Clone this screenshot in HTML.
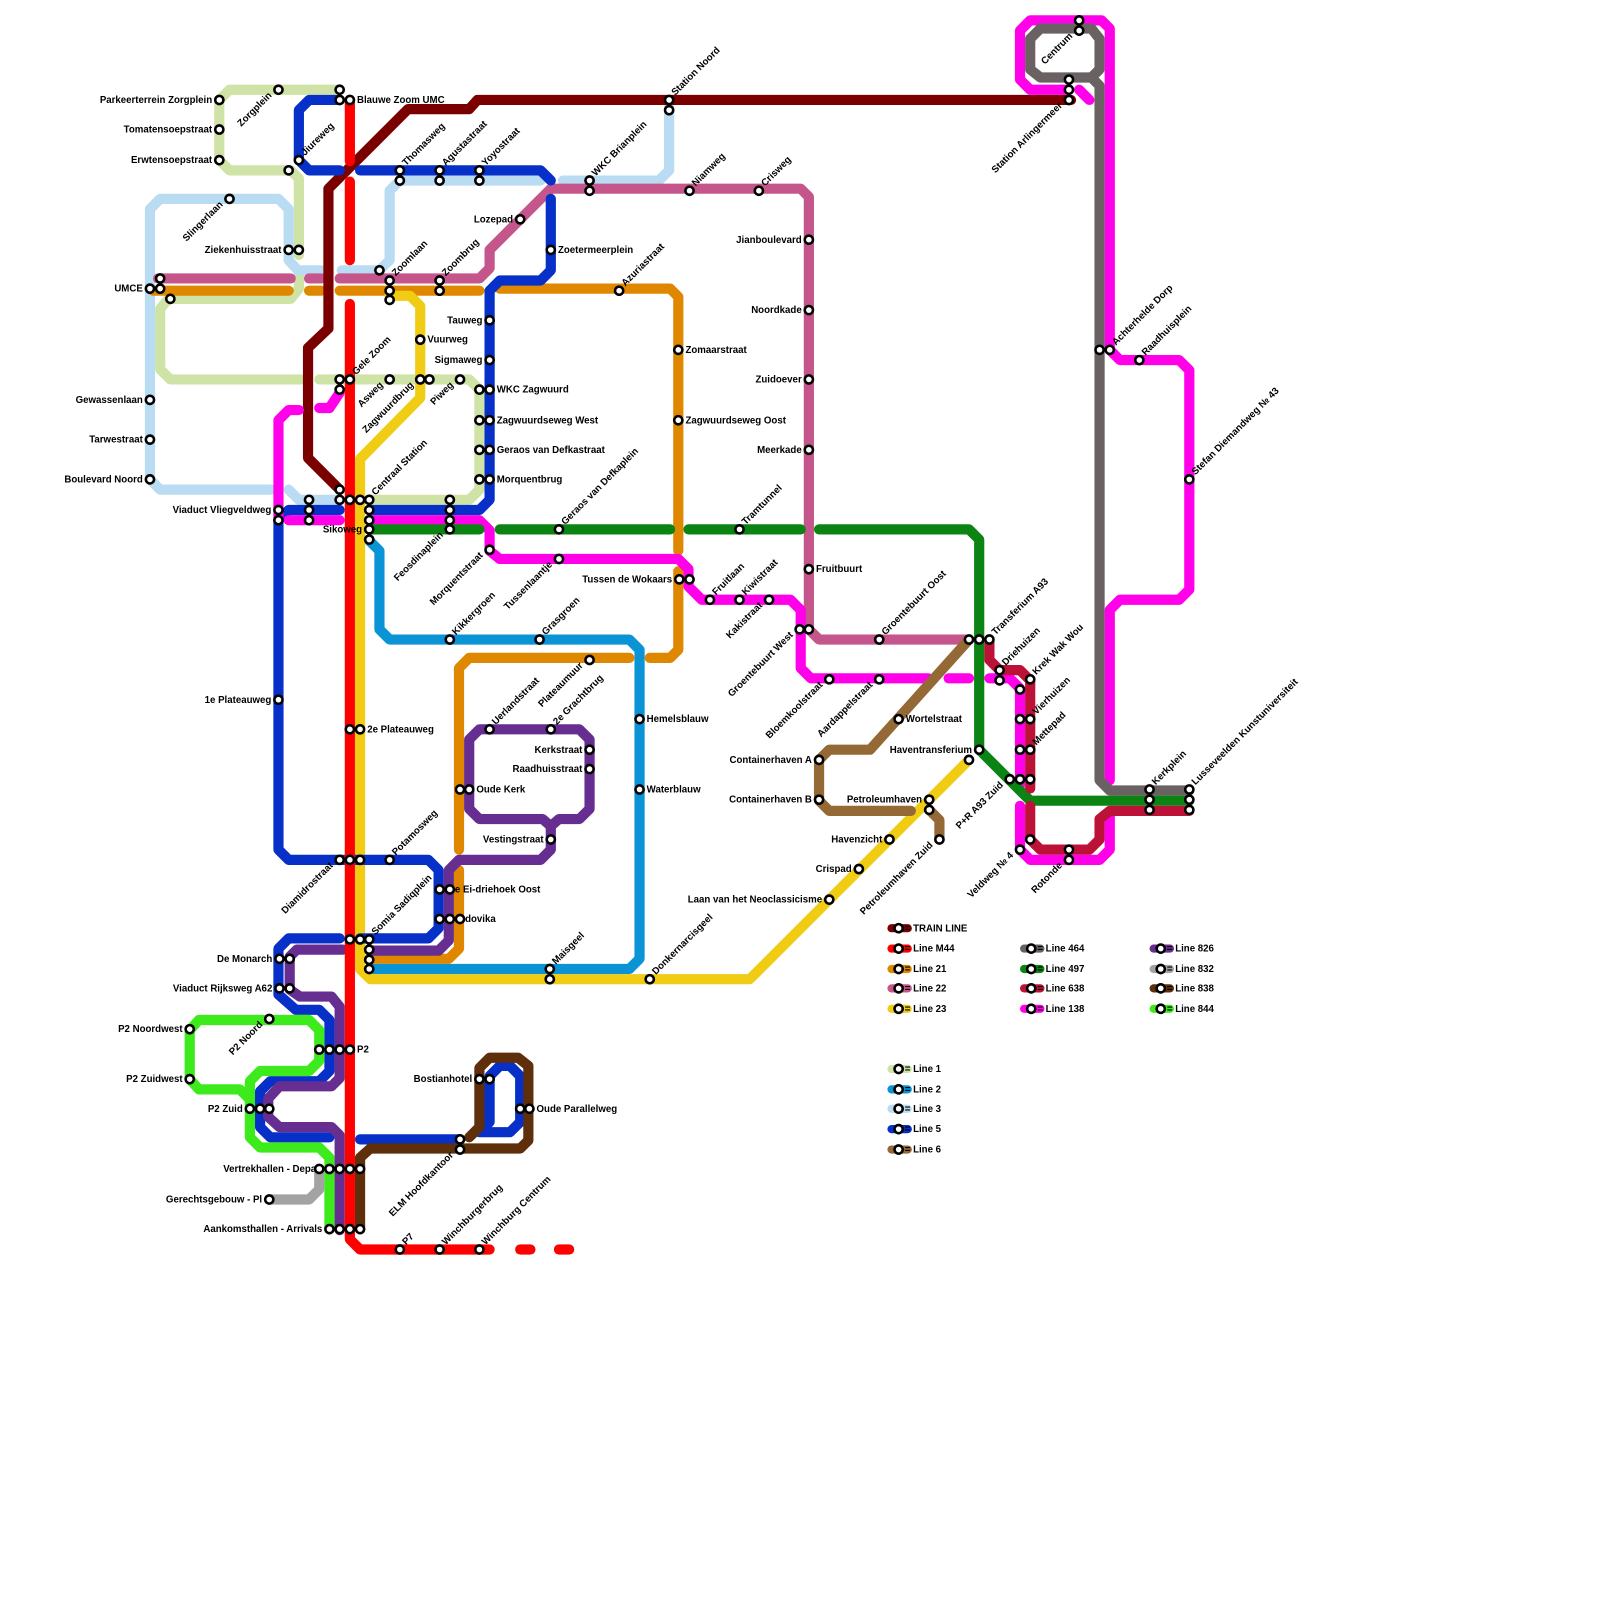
<!DOCTYPE html>
<html><head><meta charset="utf-8"><style>
body{margin:0;background:#fff}
svg{display:block}
.l{fill:none;stroke-width:10;stroke-linecap:round;stroke-linejoin:round}
.s{fill:#fff;stroke:#000;stroke-width:2.5}
text{font-family:"Liberation Sans",sans-serif;font-size:9.5px;font-weight:bold;fill:#000}
.e{text-anchor:end}
</style></head><body>
<svg width="1600" height="1600" viewBox="0 0 1600 1600" xmlns="http://www.w3.org/2000/svg">
<g transform="scale(1.02)">
<!-- Line 1 light green -->
<g class="l" stroke="#cfe3a6">
<polyline points="333,88 225,88 215,98 215,157 225,167 285,167 293,175 293,250"/>
<polyline points="293,268 293,283 285,293 165,293 157,303 157,362 167,372 295,372"/>
<polyline points="313,372 460,372 470,382 470,480 460,490 362,490"/>
</g>
<!-- Line 3 light blue -->
<g class="l" stroke="#badcf3">
<polyline points="656,98 656,167 646,177 552,177"/>
<polyline points="530,177 392,177 382,187 382,255 372,265 335,265"/>
<polyline points="315,265 292,265 283,255 283,205 273,195 157,195 147,205 147,470 157,480 266,480"/>
<polyline points="283,480 293,490 333,490"/>
</g>
<!-- Line 22 -->
<g class="l" stroke="#c5568b">
<polyline points="155,273 285,273"/><polyline points="303,273 315,273"/>
<polyline points="333,273 470,273 480,263 480,245 540,185 785,185 793,193 793,617 803,627 950,627"/>
</g>
<!-- Line 21 orange -->
<g class="l" stroke="#e08700">
<polyline points="150,285 283,285"/><polyline points="303,285 315,285"/>
<polyline points="333,285 470,285"/>
<polyline points="490,283 657,283 665,291 665,540"/>
<polyline points="665,560 665,637 657,645 637,645"/>
<polyline points="617,645 460,645 450,655 450,833"/>
<polyline points="450,853 450,930 440,940 362,940"/>
</g>
<!-- Line 2 -->
<polyline class="l" stroke="#0a94d6" points="362,530 372,540 372,617 382,627 617,627 627,637 627,940 617,950 362,950"/>
<!-- Line 23 yellow -->
<polyline class="l" stroke="#f0cc14" points="382,290 402,290 412,300 412,390 353,450 353,950 363,960 735,960 950,745"/>
<!-- Train -->
<polyline class="l" stroke="#7a0000" points="1050,98 468,98 460,107 400,107 322,185 322,322 302,341 302,449 331,478"/>
<!-- Line 5 blue -->
<g class="l" stroke="#0630c8">
<polyline points="333,98 303,98 293,108 293,157 303,167 333,167"/>
<polyline points="353,167 530,167 540,177"/>
<polyline points="540,195 540,265 530,275 490,275 480,285 480,490 470,500 362,500"/>
<polyline points="333,500 283,500 273,510 273,833 283,843 420,843 430,853 430,910 420,920 353,920"/>
<polyline points="333,920 283,920 273,930 273,975 290,990 313,990 323,1000 323,1050 313,1060 265,1060 255,1070 255,1105 265,1115 323,1115"/>
<polyline points="353,1117 450,1117"/>
<polyline points="470,1110 480,1100 480,1055 490,1045 500,1045 510,1055 510,1100 500,1110 470,1110"/>
</g>
<!-- Line 138 magenta -->
<g class="l" stroke="#ff00e8">
<polyline points="1058,20 1010,20 1000,30 1000,78 1010,88 1048,88"/>
<polyline points="1058,88 1068,98"/>
<polyline points="1058,20 1080,20 1088,28 1088,343 1098,353 1156,353 1166,363 1166,578 1156,588 1098,588 1088,598 1088,765"/>
<polyline points="1088,800 1088,833 1078,843 1010,843 1000,833 1000,790"/>
<polyline points="333,385 323,400 313,400"/>
<polyline points="293,402 283,402 273,412 273,510"/>
<polyline points="283,510 333,510"/>
<polyline points="362,510 470,510 480,520 480,540 490,548 665,548 675,558 675,575 688,588 775,588 785,598 785,655 795,665 910,665"/>
<polyline points="930,665 950,665"/>
<polyline points="970,665 990,665 1000,675 1000,770"/>
</g>
<!-- Line 464 grey -->
<g class="l" stroke="#6a6262">
<polyline points="1058,28 1020,28 1010,38 1010,68 1020,76 1070,76 1078,68 1078,38 1070,28 1058,28"/>
<polyline points="1070,76 1078,84 1078,765 1088,775 1166,775"/>
</g>
<!-- Line 497 green -->
<g class="l" stroke="#0b8413">
<polyline points="362,519 470,519"/><polyline points="490,519 657,519"/>
<polyline points="675,519 785,519"/>
<polyline points="803,519 950,519 960,529 960,735 1010,785 1166,785"/>
</g>
<!-- Line 638 -->
<g class="l" stroke="#bd1238">
<polyline points="970,627 970,647 980,657 1000,657 1010,667 1010,773"/>
<polyline points="1010,790 1010,823 1020,833 1068,833 1078,823 1078,803 1088,795 1166,795"/>
</g>
<!-- Line 6 brown -->
<polyline class="l" stroke="#956936" points="950,627 853,735 813,735 803,745 803,785 813,795 893,795"/>
<polyline class="l" stroke="#956936" points="911,794 921,804 921,823"/>
<!-- Line 826 purple -->
<g class="l" stroke="#662e91">
<polyline points="336,931 291,931 284,938 284,970 294,977 325,977 333,987 333,1057 325,1065 274,1065 263,1077 263,1095 274,1105 325,1105 333,1113 333,1206"/>
<polyline points="362,932 430,932 440,922 440,853 450,843 530,843 540,833 540,812"/>
<polyline points="470,715 568,715 578,725 578,793 568,803 548,803 540,810 532,803 470,803 460,793 460,725 470,715"/>
</g>
<!-- Line 844 green -->
<g class="l" stroke="#3deb1c">
<polyline points="186,1058 186,1010 195,1000 303,1000 313,1010 313,1040 303,1050 255,1050 245,1060 245,1115 255,1125 313,1125 323,1135 323,1205"/>
<polyline points="186,1058 195,1068 235,1068 245,1078"/>
</g>
<!-- Line 832 -->
<polyline class="l" stroke="#a3a3a3" points="264,1176 303,1176 313,1166 313,1146"/>
<!-- Line 838 -->
<g class="l" stroke="#5e2f0a">
<polyline points="353,1205 353,1135 363,1126 510,1126 518,1118 518,1045 508,1037 480,1037 470,1047 470,1105 460,1115"/>
</g>
<!-- Red M44 -->
<g class="l" stroke="#ff0000">
<polyline points="343,98 343,158"/><polyline points="343,178 343,255"/>
<polyline points="343,298 343,1215 353,1225 480,1225"/>
<polyline points="510,1225 520,1225"/><polyline points="548,1225 558,1225"/>
</g>

<!-- stations -->
<g class="s">
<circle cx="215" cy="98" r="4"/><circle cx="215" cy="127" r="4"/><circle cx="215" cy="157" r="4"/>
<circle cx="273" cy="88" r="4"/><circle cx="333" cy="88" r="4"/><circle cx="333" cy="98" r="4"/><circle cx="343" cy="98" r="4"/>
<circle cx="293" cy="157" r="4"/><circle cx="283" cy="167" r="4"/><circle cx="225" cy="195" r="4"/>
<circle cx="283" cy="245" r="4"/><circle cx="293" cy="245" r="4"/>
<circle cx="147" cy="283" r="4"/><circle cx="157" cy="273" r="4"/><circle cx="157" cy="283" r="4"/><circle cx="167" cy="293" r="4"/>
<circle cx="147" cy="392" r="4"/><circle cx="147" cy="431" r="4"/><circle cx="147" cy="470" r="4"/>
<circle cx="372" cy="265" r="4"/><circle cx="382" cy="275" r="4"/><circle cx="382" cy="285" r="4"/><circle cx="382" cy="294" r="4"/>
<circle cx="431" cy="275" r="4"/><circle cx="431" cy="285" r="4"/>
<circle cx="510" cy="215" r="4"/><circle cx="540" cy="245" r="4"/>
<circle cx="392" cy="167" r="4"/><circle cx="392" cy="177" r="4"/><circle cx="431" cy="167" r="4"/><circle cx="431" cy="177" r="4"/><circle cx="470" cy="167" r="4"/><circle cx="470" cy="177" r="4"/>
<circle cx="578" cy="177" r="4"/><circle cx="578" cy="187" r="4"/><circle cx="656" cy="98" r="4"/><circle cx="656" cy="108" r="4"/>
<circle cx="676" cy="187" r="4"/><circle cx="744" cy="187" r="4"/><circle cx="607" cy="285" r="4"/>
<circle cx="793" cy="235" r="4"/><circle cx="793" cy="304" r="4"/><circle cx="793" cy="372" r="4"/><circle cx="793" cy="441" r="4"/><circle cx="793" cy="558" r="4"/>
<circle cx="665" cy="343" r="4"/><circle cx="665" cy="412" r="4"/>
<circle cx="480" cy="314" r="4"/><circle cx="480" cy="353" r="4"/>
<circle cx="470" cy="382" r="4"/><circle cx="480" cy="382" r="4"/><circle cx="470" cy="412" r="4"/><circle cx="480" cy="412" r="4"/>
<circle cx="470" cy="441" r="4"/><circle cx="480" cy="441" r="4"/><circle cx="470" cy="470" r="4"/><circle cx="480" cy="470" r="4"/>
<circle cx="412" cy="333" r="4"/><circle cx="412" cy="372" r="4"/><circle cx="421" cy="372" r="4"/><circle cx="382" cy="372" r="4"/><circle cx="451" cy="372" r="4"/>
<circle cx="333" cy="372" r="4"/><circle cx="333" cy="382" r="4"/><circle cx="343" cy="372" r="4"/>
<circle cx="333" cy="480" r="4"/><circle cx="333" cy="490" r="4"/><circle cx="343" cy="490" r="4"/><circle cx="353" cy="490" r="4"/>
<circle cx="362" cy="490" r="4"/><circle cx="362" cy="500" r="4"/><circle cx="362" cy="510" r="4"/><circle cx="362" cy="519" r="4"/><circle cx="362" cy="529" r="4"/>
<circle cx="303" cy="490" r="4"/><circle cx="303" cy="500" r="4"/><circle cx="303" cy="510" r="4"/><circle cx="273" cy="500" r="4"/><circle cx="273" cy="510" r="4"/>
<circle cx="441" cy="490" r="4"/><circle cx="441" cy="500" r="4"/><circle cx="441" cy="510" r="4"/><circle cx="441" cy="519" r="4"/>
<circle cx="548" cy="519" r="4"/><circle cx="725" cy="519" r="4"/><circle cx="480" cy="539" r="4"/><circle cx="548" cy="548" r="4"/>
<circle cx="666" cy="568" r="4"/><circle cx="676" cy="568" r="4"/><circle cx="696" cy="588" r="4"/><circle cx="725" cy="588" r="4"/><circle cx="754" cy="588" r="4"/>
<circle cx="784" cy="617" r="4"/><circle cx="793" cy="617" r="4"/><circle cx="862" cy="627" r="4"/>
<circle cx="950" cy="627" r="4"/><circle cx="960" cy="627" r="4"/><circle cx="970" cy="627" r="4"/>
<circle cx="441" cy="627" r="4"/><circle cx="529" cy="627" r="4"/><circle cx="578" cy="647" r="4"/>
<circle cx="813" cy="666" r="4"/><circle cx="862" cy="666" r="4"/>
<circle cx="980" cy="657" r="4"/><circle cx="980" cy="667" r="4"/><circle cx="1000" cy="676" r="4"/><circle cx="1010" cy="666" r="4"/>
<circle cx="1000" cy="705" r="4"/><circle cx="1010" cy="705" r="4"/><circle cx="1000" cy="735" r="4"/><circle cx="1010" cy="735" r="4"/>
<circle cx="990" cy="764" r="4"/><circle cx="1000" cy="764" r="4"/><circle cx="1010" cy="764" r="4"/>
<circle cx="960" cy="735" r="4"/><circle cx="950" cy="745" r="4"/><circle cx="881" cy="705" r="4"/>
<circle cx="803" cy="745" r="4"/><circle cx="803" cy="784" r="4"/><circle cx="911" cy="784" r="4"/><circle cx="911" cy="794" r="4"/>
<circle cx="921" cy="823" r="4"/><circle cx="872" cy="823" r="4"/><circle cx="842" cy="852" r="4"/><circle cx="813" cy="882" r="4"/><circle cx="637" cy="960" r="4"/>
<circle cx="1010" cy="823" r="4"/><circle cx="1000" cy="833" r="4"/><circle cx="1048" cy="833" r="4"/><circle cx="1048" cy="843" r="4"/>
<circle cx="1127" cy="774" r="4"/><circle cx="1127" cy="784" r="4"/><circle cx="1127" cy="794" r="4"/>
<circle cx="1166" cy="774" r="4"/><circle cx="1166" cy="784" r="4"/><circle cx="1166" cy="794" r="4"/>
<circle cx="1078" cy="343" r="4"/><circle cx="1088" cy="343" r="4"/><circle cx="1117" cy="353" r="4"/><circle cx="1166" cy="470" r="4"/>
<circle cx="1058" cy="20" r="4"/><circle cx="1058" cy="30" r="4"/><circle cx="1048" cy="78" r="4"/><circle cx="1048" cy="88" r="4"/><circle cx="1048" cy="98" r="4"/>
<circle cx="273" cy="686" r="4"/><circle cx="343" cy="715" r="4"/><circle cx="353" cy="715" r="4"/>
<circle cx="480" cy="715" r="4"/><circle cx="540" cy="715" r="4"/><circle cx="578" cy="735" r="4"/><circle cx="578" cy="754" r="4"/>
<circle cx="451" cy="774" r="4"/><circle cx="460" cy="774" r="4"/><circle cx="540" cy="823" r="4"/>
<circle cx="627" cy="705" r="4"/><circle cx="627" cy="774" r="4"/>
<circle cx="333" cy="843" r="4"/><circle cx="343" cy="843" r="4"/><circle cx="353" cy="843" r="4"/><circle cx="382" cy="843" r="4"/>
<circle cx="431" cy="872" r="4"/><circle cx="441" cy="872" r="4"/><circle cx="431" cy="901" r="4"/><circle cx="441" cy="901" r="4"/><circle cx="451" cy="901" r="4"/>
<circle cx="343" cy="921" r="4"/><circle cx="353" cy="921" r="4"/><circle cx="362" cy="921" r="4"/><circle cx="362" cy="931" r="4"/><circle cx="362" cy="941" r="4"/><circle cx="362" cy="950" r="4"/>
<circle cx="539" cy="950" r="4"/><circle cx="539" cy="960" r="4"/>
<circle cx="274" cy="940" r="4"/><circle cx="284" cy="940" r="4"/><circle cx="274" cy="969" r="4"/><circle cx="284" cy="969" r="4"/>
<circle cx="186" cy="1009" r="4"/><circle cx="186" cy="1058" r="4"/><circle cx="264" cy="999" r="4"/>
<circle cx="313" cy="1029" r="4"/><circle cx="323" cy="1029" r="4"/><circle cx="333" cy="1029" r="4"/><circle cx="343" cy="1029" r="4"/>
<circle cx="245" cy="1087" r="4"/><circle cx="255" cy="1087" r="4"/><circle cx="264" cy="1087" r="4"/>
<circle cx="470" cy="1058" r="4"/><circle cx="480" cy="1058" r="4"/><circle cx="510" cy="1087" r="4"/><circle cx="519" cy="1087" r="4"/>
<circle cx="451" cy="1117" r="4"/><circle cx="451" cy="1127" r="4"/>
<circle cx="313" cy="1146" r="4"/><circle cx="323" cy="1146" r="4"/><circle cx="333" cy="1146" r="4"/><circle cx="343" cy="1146" r="4"/><circle cx="353" cy="1146" r="4"/>
<circle cx="264" cy="1176" r="4"/>
<circle cx="323" cy="1205" r="4"/><circle cx="333" cy="1205" r="4"/><circle cx="343" cy="1205" r="4"/><circle cx="353" cy="1205" r="4"/>
<circle cx="392" cy="1225" r="4"/><circle cx="431" cy="1225" r="4"/><circle cx="470" cy="1225" r="4"/>
</g>

<!-- horizontal labels -->
<g>
<text class="e" x="208" y="101">Parkeerterrein Zorgplein</text>
<text class="e" x="208" y="130">Tomatensoepstraat</text>
<text class="e" x="208" y="160">Erwtensoepstraat</text>
<text x="350" y="101">Blauwe Zoom UMC</text>
<text class="e" x="276" y="248">Ziekenhuisstraat</text>
<text class="e" x="140" y="286">UMCE</text>
<text class="e" x="140" y="395">Gewassenlaan</text>
<text class="e" x="140" y="434">Tarwestraat</text>
<text class="e" x="140" y="473">Boulevard Noord</text>
<text class="e" x="503" y="218">Lozepad</text>
<text x="547" y="248">Zoetermeerplein</text>
<text class="e" x="786" y="238">Jianboulevard</text>
<text class="e" x="786" y="307">Noordkade</text>
<text class="e" x="786" y="375">Zuidoever</text>
<text class="e" x="786" y="444">Meerkade</text>
<text x="800" y="561">Fruitbuurt</text>
<text x="672" y="346">Zomaarstraat</text>
<text x="672" y="415">Zagwuurdseweg Oost</text>
<text class="e" x="473" y="317">Tauweg</text>
<text class="e" x="473" y="356">Sigmaweg</text>
<text x="487" y="385">WKC Zagwuurd</text>
<text x="487" y="415">Zagwuurdseweg West</text>
<text x="487" y="444">Geraos van Defkastraat</text>
<text x="487" y="473">Morquentbrug</text>
<text x="419" y="336">Vuurweg</text>
<text class="e" x="355" y="522">Sikoweg</text>
<text class="e" x="266" y="503">Viaduct Vliegveldweg</text>
<text class="e" x="659" y="571">Tussen de Wokaars</text>
<text x="888" y="708">Wortelstraat</text>
<text class="e" x="796" y="748">Containerhaven A</text>
<text class="e" x="796" y="787">Containerhaven B</text>
<text class="e" x="953" y="738">Haventransferium</text>
<text class="e" x="904" y="787">Petroleumhaven</text>
<text class="e" x="865" y="826">Havenzicht</text>
<text class="e" x="835" y="855">Crispad</text>
<text class="e" x="806" y="885">Laan van het Neoclassicisme</text>
<text class="e" x="266" y="689">1e Plateauweg</text>
<text x="360" y="718">2e Plateauweg</text>
<text class="e" x="571" y="738">Kerkstraat</text>
<text class="e" x="571" y="757">Raadhuisstraat</text>
<text x="467" y="777">Oude Kerk</text>
<text class="e" x="533" y="826">Vestingstraat</text>
<text x="634" y="708">Hemelsblauw</text>
<text x="634" y="777">Waterblauw</text>
<text x="446" y="875">e Ei-driehoek Oost</text>
<text x="456" y="904">dovika</text>
<text class="e" x="267" y="943">De Monarch</text>
<text class="e" x="267" y="972">Viaduct Rijksweg A62</text>
<text class="e" x="179" y="1012">P2 Noordwest</text>
<text class="e" x="179" y="1061">P2 Zuidwest</text>
<text x="350" y="1032">P2</text>
<text class="e" x="238" y="1090">P2 Zuid</text>
<text class="e" x="463" y="1061">Bostianhotel</text>
<text x="526" y="1090">Oude Parallelweg</text>
<text class="e" x="310" y="1149">Vertrekhallen - Depa</text>
<text class="e" x="257" y="1179">Gerechtsgebouw - Pl</text>
<text class="e" x="316" y="1208">Aankomsthallen - Arrivals</text>
</g>
<!-- rotated labels (start) -->
<g>
<text x="299" y="153" transform="rotate(-45 299 153)">Jiureweg</text>
<text x="398" y="163" transform="rotate(-45 398 163)">Thomasweg</text>
<text x="437" y="163" transform="rotate(-45 437 163)">Agustastraat</text>
<text x="476" y="163" transform="rotate(-45 476 163)">Yoyostraat</text>
<text x="584" y="173" transform="rotate(-45 584 173)">WKC Brianplein</text>
<text x="662" y="94" transform="rotate(-45 662 94)">Station Noord</text>
<text x="682" y="183" transform="rotate(-45 682 183)">Niamweg</text>
<text x="750" y="183" transform="rotate(-45 750 183)">Crisweg</text>
<text x="613" y="281" transform="rotate(-45 613 281)">Azuriastraat</text>
<text x="388" y="271" transform="rotate(-45 388 271)">Zoomlaan</text>
<text x="437" y="271" transform="rotate(-45 437 271)">Zoombrug</text>
<text x="349" y="368" transform="rotate(-45 349 368)">Gele Zoom</text>
<text x="368" y="486" transform="rotate(-45 368 486)">Centraal Station</text>
<text x="554" y="515" transform="rotate(-45 554 515)">Geraos van Defkaplein</text>
<text x="731" y="515" transform="rotate(-45 731 515)">Tramtunnel</text>
<text x="702" y="584" transform="rotate(-45 702 584)">Fruitlaan</text>
<text x="731" y="584" transform="rotate(-45 731 584)">Kiwistraat</text>
<text x="868" y="623" transform="rotate(-45 868 623)">Groentebuurt Oost</text>
<text x="976" y="623" transform="rotate(-45 976 623)">Transferium A93</text>
<text x="447" y="623" transform="rotate(-45 447 623)">Kikkergroen</text>
<text x="535" y="623" transform="rotate(-45 535 623)">Grasgroen</text>
<text x="986" y="653" transform="rotate(-45 986 653)">Driehuizen</text>
<text x="1016" y="662" transform="rotate(-45 1016 662)">Krek Wak Wou</text>
<text x="1016" y="701" transform="rotate(-45 1016 701)">Vierhuizen</text>
<text x="1016" y="731" transform="rotate(-45 1016 731)">Mettepad</text>
<text x="643" y="956" transform="rotate(-45 643 956)">Donkernarcisgeel</text>
<text x="1133" y="770" transform="rotate(-45 1133 770)">Kerkplein</text>
<text x="1172" y="770" transform="rotate(-45 1172 770)">Lusseveelden Kunstuniversiteit</text>
<text x="1094" y="339" transform="rotate(-45 1094 339)">Achterhelde Dorp</text>
<text x="1123" y="349" transform="rotate(-45 1123 349)">Raadhuisplein</text>
<text x="1172" y="466" transform="rotate(-45 1172 466)">Stefan Diemandweg № 43</text>
<text x="486" y="711" transform="rotate(-45 486 711)">Uerlandstraat</text>
<text x="546" y="711" transform="rotate(-45 546 711)">2e Grachtbrug</text>
<text x="388" y="839" transform="rotate(-45 388 839)">Potamosweg</text>
<text x="368" y="917" transform="rotate(-45 368 917)">Somia Sadiqplein</text>
<text x="545" y="946" transform="rotate(-45 545 946)">Maisgeel</text>
<text x="398" y="1221" transform="rotate(-45 398 1221)">P7</text>
<text x="437" y="1221" transform="rotate(-45 437 1221)">Winchburgerbrug</text>
<text x="476" y="1221" transform="rotate(-45 476 1221)">Winchburg Centrum</text>
</g>
<!-- rotated labels (end) -->
<g class="e">
<text x="267" y="94" transform="rotate(-45 267 94)">Zorgplein</text>
<text x="219" y="201" transform="rotate(-45 219 201)">Slingerlaan</text>
<text x="376" y="378" transform="rotate(-45 376 378)">Asweg</text>
<text x="406" y="378" transform="rotate(-45 406 378)">Zagwuurdbrug</text>
<text x="445" y="378" transform="rotate(-45 445 378)">Piweg</text>
<text x="435" y="525" transform="rotate(-45 435 525)">Feosdinaplein</text>
<text x="474" y="545" transform="rotate(-45 474 545)">Morquentstraat</text>
<text x="542" y="554" transform="rotate(-45 542 554)">Tussenlaantje</text>
<text x="748" y="594" transform="rotate(-45 748 594)">Kakistraat</text>
<text x="778" y="623" transform="rotate(-45 778 623)">Groentebuurt West</text>
<text x="572" y="653" transform="rotate(-45 572 653)">Plateaumuur</text>
<text x="807" y="672" transform="rotate(-45 807 672)">Bloemkoolstraat</text>
<text x="856" y="672" transform="rotate(-45 856 672)">Aardappelstraat</text>
<text x="984" y="770" transform="rotate(-45 984 770)">P+R A93 Zuid</text>
<text x="915" y="829" transform="rotate(-45 915 829)">Petroleumhaven Zuid</text>
<text x="994" y="839" transform="rotate(-45 994 839)">Veldweg № 4</text>
<text x="1042" y="849" transform="rotate(-45 1042 849)">Rotonde</text>
<text x="1052" y="36" transform="rotate(-45 1052 36)">Centrum</text>
<text x="1042" y="104" transform="rotate(-45 1042 104)">Station Arlingermeer</text>
<text x="327" y="849" transform="rotate(-45 327 849)">Diamidrostraat</text>
<text x="258" y="1005" transform="rotate(-45 258 1005)">P2 Noord</text>
<text x="445" y="1133" transform="rotate(-45 445 1133)">ELM Hoofdkantoor</text>
</g>

<!-- legend -->
<g stroke-linecap="round" stroke-width="8">
<line x1="874" y1="910" x2="890" y2="910" stroke="#7a0000"/>
<line x1="874" y1="930" x2="890" y2="930" stroke="#ff0000"/>
<line x1="874" y1="950" x2="890" y2="950" stroke="#e08700"/>
<line x1="874" y1="969" x2="890" y2="969" stroke="#c5568b"/>
<line x1="874" y1="989" x2="890" y2="989" stroke="#f0cc14"/>
<line x1="1004" y1="930" x2="1020" y2="930" stroke="#6a6262"/>
<line x1="1004" y1="950" x2="1020" y2="950" stroke="#0b8413"/>
<line x1="1004" y1="969" x2="1020" y2="969" stroke="#bd1238"/>
<line x1="1004" y1="989" x2="1020" y2="989" stroke="#ff00e8"/>
<line x1="1131" y1="930" x2="1147" y2="930" stroke="#662e91"/>
<line x1="1131" y1="950" x2="1147" y2="950" stroke="#a3a3a3"/>
<line x1="1131" y1="969" x2="1147" y2="969" stroke="#5e2f0a"/>
<line x1="1131" y1="989" x2="1147" y2="989" stroke="#3deb1c"/>
<line x1="874" y1="1048" x2="890" y2="1048" stroke="#cfe3a6"/>
<line x1="874" y1="1068" x2="890" y2="1068" stroke="#0a94d6"/>
<line x1="874" y1="1087" x2="890" y2="1087" stroke="#badcf3"/>
<line x1="874" y1="1107" x2="890" y2="1107" stroke="#0630c8"/>
<line x1="874" y1="1127" x2="890" y2="1127" stroke="#956936"/>
</g>
<g class="s">
<circle cx="881" cy="910" r="4"/><circle cx="881" cy="930" r="4"/><circle cx="881" cy="950" r="4"/><circle cx="881" cy="969" r="4"/><circle cx="881" cy="989" r="4"/>
<circle cx="1011" cy="930" r="4"/><circle cx="1011" cy="950" r="4"/><circle cx="1011" cy="969" r="4"/><circle cx="1011" cy="989" r="4"/>
<circle cx="1138" cy="930" r="4"/><circle cx="1138" cy="950" r="4"/><circle cx="1138" cy="969" r="4"/><circle cx="1138" cy="989" r="4"/>
<circle cx="881" cy="1048" r="4"/><circle cx="881" cy="1068" r="4"/><circle cx="881" cy="1087" r="4"/><circle cx="881" cy="1107" r="4"/><circle cx="881" cy="1127" r="4"/>
</g>
<g>
<text x="887" y="913">= TRAIN LINE</text>
<text x="887" y="933">= Line M44</text>
<text x="887" y="953">= Line 21</text>
<text x="887" y="972">= Line 22</text>
<text x="887" y="992">= Line 23</text>
<text x="1017" y="933">= Line 464</text>
<text x="1017" y="953">= Line 497</text>
<text x="1017" y="972">= Line 638</text>
<text x="1017" y="992">= Line 138</text>
<text x="1144" y="933">= Line 826</text>
<text x="1144" y="953">= Line 832</text>
<text x="1144" y="972">= Line 838</text>
<text x="1144" y="992">= Line 844</text>
<text x="887" y="1051">= Line 1</text>
<text x="887" y="1071">= Line 2</text>
<text x="887" y="1090">= Line 3</text>
<text x="887" y="1110">= Line 5</text>
<text x="887" y="1130">= Line 6</text>
</g>
</g>
</svg>
</body></html>
